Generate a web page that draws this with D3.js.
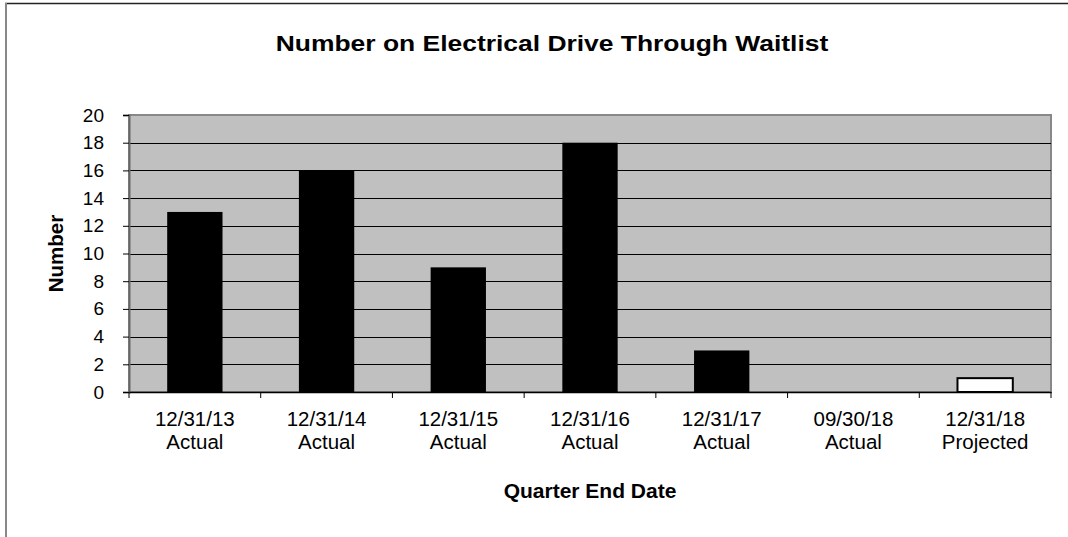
<!DOCTYPE html>
<html>
<head>
<meta charset="utf-8">
<script src="https://cdn.jsdelivr.net/npm/d3@7"></script>
<style>
  body { margin: 0; background: #fff; }
  text { font-family: "Liberation Sans", Arial, sans-serif; fill: #000; }
</style>
</head>
<body>
<svg id="chart" width="1068" height="537"></svg>
<script>
"use strict";

let dates = ['12/31/13', '12/31/14', '12/31/15', '12/31/16', '12/31/17', '09/30/18', '12/31/18'];
let kinds = ['Actual', 'Actual', 'Actual', 'Actual', 'Actual', 'Actual', 'Projected'];
let counts = [13, 16, 9, 18, 3, 0, 1];
let yTicks = [0, 2, 4, 6, 8, 10, 12, 14, 16, 18, 20];

let svg = d3.select('#chart');
let plot = { left: 129, top: 115, right: 1051, bottom: 392 };

// outer frame
svg.append('line').attr('x1', 5).attr('x2', 1068).attr('y1', 3.5).attr('y2', 3.5)
  .style('stroke', '#222').style('stroke-width', 1.5);
svg.append('line').attr('x1', 6).attr('x2', 6).attr('y1', 3).attr('y2', 537)
  .style('stroke', '#888').style('stroke-width', 2);

let x = d3.scaleBand().domain(d3.range(dates.length))
  .range([plot.left, plot.right]).paddingInner(0).paddingOuter(0);
let y = d3.scaleLinear().domain([0, 20]).range([plot.bottom, plot.top]);

// plot background
svg.append('rect')
  .attr('x', plot.left).attr('y', plot.top)
  .attr('width', plot.right - plot.left).attr('height', plot.bottom - plot.top)
  .style('fill', '#c0c0c0')
  .style('stroke', '#888').style('stroke-width', 2);

// grid lines
svg.append('g').selectAll('line')
  .data(yTicks.filter(t => t > 0 && t < 20))
  .enter().append('line')
    .attr('x1', plot.left).attr('x2', plot.right)
    .attr('y1', t => Math.round(y(t)) + 0.5).attr('y2', t => Math.round(y(t)) + 0.5)
    .style('stroke', '#000').style('stroke-width', 1);

// bars
let bw = x.bandwidth() * 0.42;
svg.append('g').selectAll('rect')
  .data(counts)
  .enter().append('rect')
    .attr('x', (d, i) => x(i) + (x.bandwidth() - bw) / 2)
    .attr('y', d => y(d))
    .attr('width', bw)
    .attr('height', d => y(0) - y(d))
    .style('fill', (d, i) => kinds[i] == 'Projected' ? '#fff' : '#000')
    .style('stroke', '#000')
    .style('stroke-width', (d, i) => kinds[i] == 'Projected' ? 2 : 0);

// y axis
let yAxis = d3.axisLeft(y).tickValues(yTicks).tickSize(6).tickPadding(19);
let yg = svg.append('g').attr('transform', `translate(${plot.left},0)`).call(yAxis);
yg.select('.domain').style('stroke', '#666').style('stroke-width', 2);
yg.selectAll('.tick line').style('stroke', '#000');
yg.selectAll('.tick text').style('font-size', '19px')
  .style('font-family', '"Liberation Sans", Arial, sans-serif');

// x axis
let xAxis = d3.axisBottom(x).tickFormat('').tickSize(0);
let xg = svg.append('g').attr('transform', `translate(0,${plot.bottom})`).call(xAxis);
xg.select('.domain').style('stroke', '#000').style('stroke-width', 1.5);
xg.append('g').selectAll('line')
  .data(d3.range(dates.length + 1))
  .enter().append('line')
    .attr('x1', i => plot.left + i * x.step()).attr('x2', i => plot.left + i * x.step())
    .attr('y1', 0).attr('y2', 6)
    .style('stroke', '#000');

let labels = svg.append('g').selectAll('text')
  .data(dates)
  .enter().append('text')
    .attr('x', (d, i) => x(i) + x.bandwidth() / 2)
    .attr('y', 426)
    .style('text-anchor', 'middle')
    .style('font-size', '20.5px');
labels.append('tspan').text(d => d);
labels.append('tspan')
  .attr('x', (d, i) => x(i) + x.bandwidth() / 2)
  .attr('dy', 22.6)
  .text((d, i) => kinds[i]);

// titles
svg.append('text')
  .attr('transform', 'translate(552,51) scale(1.175,1)')
  .style('text-anchor', 'middle').style('font-size', '22.5px').style('font-weight', 'bold')
  .text('Number on Electrical Drive Through Waitlist');
svg.append('text')
  .attr('x', (plot.left + plot.right) / 2).attr('y', 498)
  .style('text-anchor', 'middle').style('font-size', '21px').style('font-weight', 'bold')
  .text('Quarter End Date');
svg.append('text')
  .attr('transform', `translate(63,${(plot.top + plot.bottom) / 2}) rotate(-90)`)
  .style('text-anchor', 'middle').style('font-size', '20.5px').style('font-weight', 'bold')
  .text('Number');
</script>
</body>
</html>
